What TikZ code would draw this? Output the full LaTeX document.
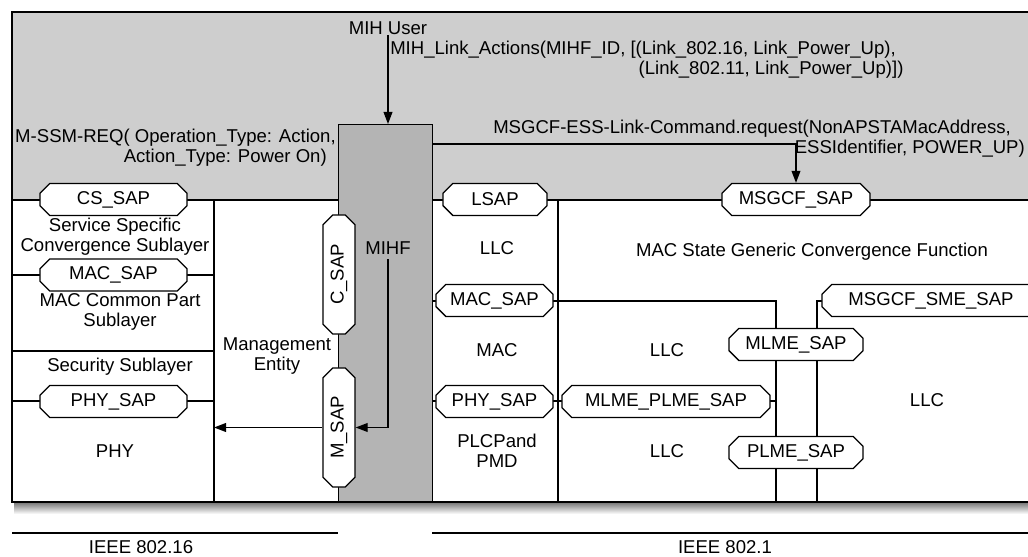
\documentclass[tikz,border=0pt]{standalone}
\usepackage{fontspec}
\setmainfont{Liberation Sans}
\usetikzlibrary{shapes.misc, arrows.meta, positioning, calc}
\definecolor{topgray}{RGB}{206,206,206}
\definecolor{mihfgray}{RGB}{180,180,180}
\tikzstyle{sap} = [chamfered rectangle, chamfered rectangle xsep=3.5pt, draw, fill=white, line width=0.9pt, minimum height=0.8cm, inner sep=0pt]
\tikzstyle{arrow} = [-{Triangle[length=3mm, width=2.2mm]}, line width=0.9pt]
\tikzstyle{lbl} = [align=center, inner sep=0pt]

\begin{document}
\begin{tikzpicture}[x=0.025cm, y=-0.025cm, font=\fontsize{13.2}{14.2}\selectfont]
    \useasboundingbox (0,0) rectangle (1028,557);

    % Backgrounds and shadow
    \fill[topgray] (12,12) rectangle (1040,200);
    \shade[top color=black!55, bottom color=white] (14,502) rectangle (1040,514);

    % Layer lines
    \draw[line width=0.9pt] (12,200) -- (1040,200);
    \draw[line width=0.9pt] (214,200) -- (214,502);
    \draw[line width=0.9pt] (558,200) -- (558,502);
    \foreach \y in {275, 351, 401} {
        \draw[line width=0.9pt] (12,\y) -- (214,\y);
    }
    \draw[line width=0.9pt] (432,301) -- (776,301) -- (776,502);
    \draw[line width=0.9pt] (432,401) -- (776,401);
    \draw[line width=0.9pt] (822,301) -- (817,301) -- (817,502);

    % MIHF column
    \node[draw, fill=mihfgray, line width=0.9pt, minimum width=2.35cm, minimum height=9.45cm, inner sep=0pt, anchor=north west] (mihf) at (338,124) {};
    \coordinate (mgmt) at (214,502);
    \coordinate (cmd) at (432,144);

    % Frame
    \draw[line width=1.2pt] (12,12) rectangle (1040,502);

    % Standards
    \draw[line width=0.9pt] (12,533) -- (338,533);
    \draw[line width=0.9pt] (432,533) -- (1040,533);
    \node[anchor=base] (ieee16) at (141,554) {IEEE 802.16};
    \node[anchor=base] (ieee11) at (725,554) {IEEE 802.1};

    % Service access points
    \node[sap, minimum width=3.675cm] (cs_sap) at (113.5,199.5) {CS\_SAP};
    \node[sap, minimum width=3.675cm] (mac_sap16) at (113.5,275) {MAC\_SAP};
    \node[sap, minimum width=3.675cm] (phy_sap16) at (113.5,401.5) {PHY\_SAP};
    \node[sap, rotate=90, minimum width=2.975cm] (c_sap) at (339,274.5) {C\_SAP};
    \node[sap, rotate=90, minimum width=2.975cm] (m_sap) at (339,427.5) {M\_SAP};
    \node[sap, minimum width=2.6cm] (lsap) at (495,199.5) {LSAP};
    \node[sap, minimum width=3.7cm] (msgcf_sap) at (796,199.5) {MSGCF\_SAP};
    \node[sap, minimum width=2.925cm] (mac_sap) at (494.5,300.5) {MAC\_SAP};
    \node[sap, minimum width=2.925cm] (phy_sap) at (494.5,401.5) {PHY\_SAP};
    \node[sap, minimum width=5.2cm] (mlme_plme_sap) at (666,401.5) {MLME\_PLME\_SAP};
    \node[sap, minimum width=3.35cm] (mlme_sap) at (796,344.5) {MLME\_SAP};
    \node[sap, minimum width=3.35cm] (plme_sap) at (796,452.5) {PLME\_SAP};
    \node[sap, minimum width=5.45cm] (sme_sap) at (931,300.5) {MSGCF\_SME\_SAP};

    % Layer labels
    \node[lbl] (sscs) at (115,237) {Service Specific\\Convergence Sublayer};
    \node[lbl] (mac_cps) at (120,312) {MAC Common Part\\Sublayer};
    \node[lbl] (security) at (120,367) {Security Sublayer};
    \node[lbl] (phy16) at (115,451) {PHY};
    \node[lbl] (mgmt_entity) at (277,356) {Management\\Entity};
    \node[lbl] (mihf_lbl) at (388,248) {MIHF};
    \node[lbl] (llc_top) at (497,248) {LLC};
    \node[lbl] (mac) at (497,350) {MAC};
    \node[lbl] (plcp) at (497,451) {PLCPand\\PMD};
    \node[lbl] (msgcf) at (812,252) {MAC State Generic Convergence Function};
    \foreach \x/\y/\name in {667/350/llc_a, 667/451/llc_b, 927/400/llc_c} {
        \node[lbl] (\name) at (\x,\y) {LLC};
    }

    % Primitives
    \node[lbl] (mih_user) at (388,28) {MIH User};
    \node[lbl, align=right, anchor=west] (link_actions) at (390,60)
        {MIH\_Link\_Actions(MIHF\_ID, [(Link\_802.16, Link\_Power\_Up),\hspace*{5.5pt}\\
         (Link\_802.11, Link\_Power\_Up)])};
    \node[lbl, align=right, anchor=east] (ssm_req) at (336,148)
        {M-SSM-REQ( Operation\_Type: Action,\\
         Action\_Type: Power On)\hspace*{6.4pt}};
    \node[lbl, align=right, anchor=west] (link_cmd) at (493,139)
        {MSGCF-ESS-Link-Command.request(NonAPSTAMacAddress,\hspace*{10pt}\\
         ESSIdentifier, POWER\_UP)};

    % Arrows
    \draw[arrow] (mih_user.south) -- (mih_user.south |- mihf.north);
    \draw[arrow, shorten <=0.12cm] (mihf_lbl.south) |- (m_sap.south);
    \draw[arrow] (m_sap.north) -- (m_sap.north -| mgmt);
    \draw[arrow] (cmd) -| (msgcf_sap.north);
\end{tikzpicture}
\end{document}
